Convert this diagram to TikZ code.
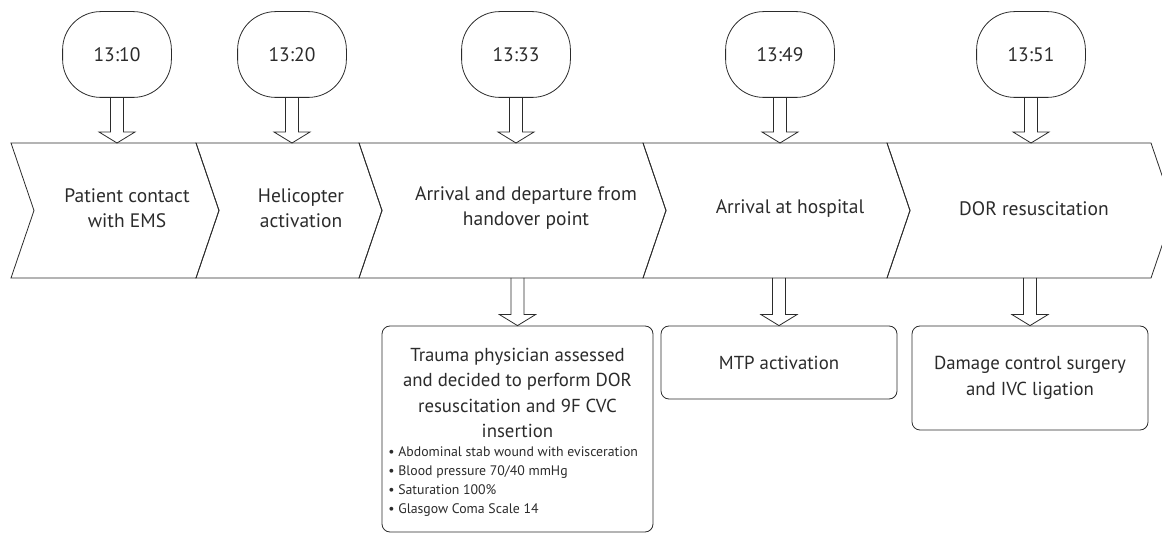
\documentclass[tikz,border=0pt]{standalone}
\usepackage{fontspec}
\setmainfont{PT Sans}
\usetikzlibrary{calc}
\definecolor{ink}{HTML}{2B2B2B}
\begin{document}
\begin{tikzpicture}[x=1pt,y=-1pt, line width=0.8pt, line join=miter, draw=ink, text=ink,
  timebox/.style={minimum width=108pt, minimum height=85pt, inner sep=0pt, font=\fontsize{19.5}{22}\selectfont},
  timeoutline/.style={draw, rounded corners=38pt},
  steptext/.style={inner sep=0pt, align=center, font=\fontsize{19.5}{25}\selectfont},
  infobox/.style={draw, rounded corners=8pt, inner sep=0pt},
  boxtext/.style={inner sep=0pt, align=center, font=\fontsize{18.8}{25.5}\selectfont},
  bullettext/.style={inner sep=0pt, align=left, anchor=west, font=\fontsize{13.8}{19}\selectfont},
  blockarr/.style={to path={let \p1=(\tikztostart), \p2=(\tikztotarget) in
     (\x1-6.5pt,\y1) -- (\x1-6.5pt,\y2+11pt) -- (\x1-18pt,\y2+11pt) -- (\x1,\y2)
     -- (\x1+18pt,\y2+11pt) -- (\x1+6.5pt,\y2+11pt) -- (\x1+6.5pt,\y1)}}
]
\clip (0,0) rectangle (1162,534);

% chevron band
\coordinate (bandtop) at (0,143);
\coordinate (bandbot) at (0,278);
\foreach \l/\r in {11/196, 196/359, 359/643, 643/887, 887/1151}{
  \draw (\l,143) -- (\l+23,210.5) -- (\l,278) -- (\r,278) -- (\r+23,210.5) -- (\r,143) -- cycle;
}
\node[steptext] (ch1) at (127,208.5) {Patient contact\\with EMS};
\node[steptext] (ch2) at (301,208.5) {Helicopter\\activation};
\node[steptext] (ch3) at (526,208.5) {Arrival and departure from\\handover point};
\node[steptext] (ch4) at (790,208.5) {Arrival at hospital};
\node[steptext] (ch5) at (1034,208.5) {DOR resuscitation};

% time nodes
\node[timebox] (t1) at (117,54.5) {13:10};
\node[timebox] (t2) at (292,54.5) {13:20};
\node[timebox] (t3) at (516,54.5) {13:33};
\node[timebox] (t4) at (780,54.5) {13:49};
\node[timebox] (t5) at (1031,54.5) {13:51};

\foreach \t in {t1,t2,t3,t4,t5}{
  \draw[timeoutline] (\t.north west) rectangle (\t.south east);
  \draw[blockarr] (\t.south) to (\t.south |- bandtop);
}

% lower boxes
\node[infobox, minimum width=271pt, minimum height=206pt] (b1) at (517.5,429) {};
\node[infobox, minimum width=236pt, minimum height=73pt] (b2) at (779,362.5) {};
\node[infobox, minimum width=236pt, minimum height=104pt] (b3) at (1030,378) {};

\node[boxtext] (b1h) at (517.5,393) {Trauma physician assessed\\and decided to perform DOR\\resuscitation and 9F CVC\\insertion};
\node[bullettext] (b1l) at (388,481.7) {\textbullet\ Abdominal stab wound with evisceration\\\textbullet\ Blood pressure 70/40 mmHg\\\textbullet\ Saturation 100\%\\\textbullet\ Glasgow Coma Scale 14};
\node[boxtext] (b2t) at (b2.center) {MTP activation};
\node[boxtext] (b3t) at (b3.center) {Damage control surgery\\and IVC ligation};

\foreach \b in {b1,b2,b3}{
  \draw[blockarr] (\b.north |- bandbot) to (\b.north);
}
\end{tikzpicture}
\end{document}
